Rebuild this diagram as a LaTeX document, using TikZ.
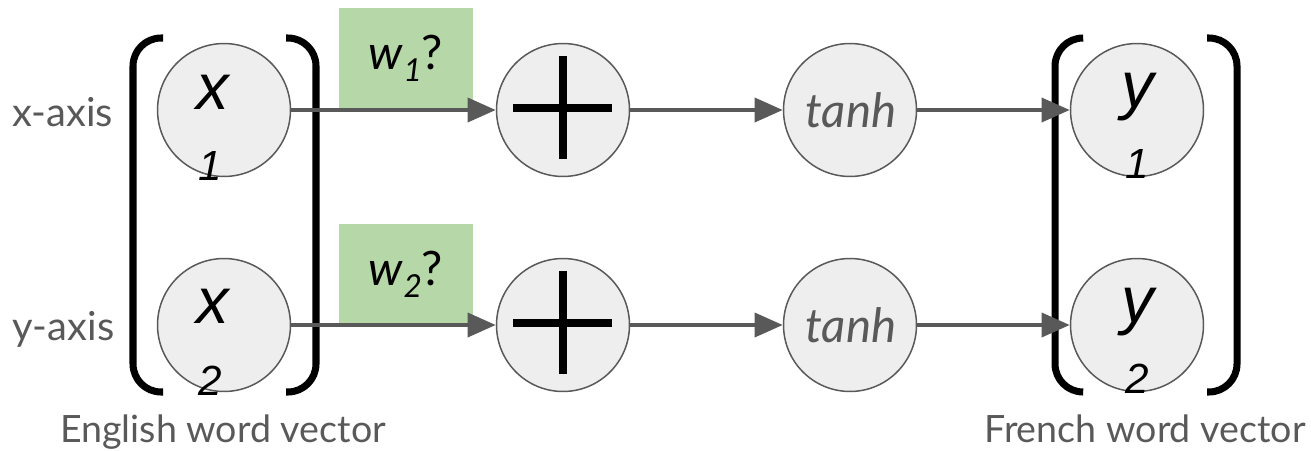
\documentclass[tikz,border=0pt]{standalone}
\usepackage{fontspec}
\setmainfont{Lato}
\newfontfamily\vecfont{Liberation Sans}
\usetikzlibrary{arrows.meta}

\definecolor{linegray}{HTML}{595959}
\definecolor{cellgray}{HTML}{EEEEEE}
\definecolor{weightgreen}{HTML}{B6D7A8}

\tikzset{
  cell/.style={circle, draw=linegray, line width=0.85pt, fill=cellgray, minimum size=2.66cm, inner sep=0pt},
  flow/.style={draw=linegray, line width=2.27pt, -{Triangle[length=16pt,width=13.6pt]}},
  bracket/.style={line width=4pt, rounded corners=16pt},
  plusbar/.style={line width=4.5pt},
  weight/.style={fill=weightgreen, minimum width=2.68cm, minimum height=2.02cm, inner sep=0pt, font=\fontsize{27}{30}\selectfont},
  vec/.style={font=\vecfont\itshape\fontsize{37}{37}\selectfont, inner sep=0pt, anchor=base},
  idx/.style={font=\vecfont\itshape\fontsize{24}{24}\selectfont, inner sep=0pt, anchor=base},
  act/.style={text=linegray, font=\itshape\fontsize{27}{30}\selectfont, inner sep=0pt, anchor=base},
  axislabel/.style={text=linegray, font=\fontsize{22.7}{24}\selectfont, inner sep=0pt, anchor=base west},
  caption/.style={text=linegray, font=\fontsize{21.4}{23}\selectfont, inner sep=0pt, anchor=base}
}

\begin{document}
\begin{tikzpicture}[x=0.02cm, y=-0.02cm]
    \useasboundingbox (0,0) rectangle (1311,450);

    % brackets round the two vectors
    \draw[bracket] (163,38) -- (133,38) -- (133,392) -- (163,392);
    \draw[bracket] (286,38) -- (316,38) -- (316,392) -- (286,392);
    \draw[bracket] (1083,38) -- (1055,38) -- (1055,392) -- (1083,392);
    \draw[bracket] (1207,38) -- (1237,38) -- (1237,392) -- (1207,392);

    % unknown weights
    \node[weight] (w1) at (406,58.5) {\textit{w}\raisebox{-0.25em}{\fontsize{18}{18}\selectfont\textit{1}}?};
    \node[weight] (w2) at (406,274.5) {\textit{w}\raisebox{-0.25em}{\fontsize{18}{18}\selectfont\textit{2}}?};

    % cells
    \node[cell] (x1) at (224,110) {};
    \node[cell] (x2) at (224,325) {};
    \node[cell] (p1) at (563,110) {};
    \node[cell] (p2) at (563,325) {};
    \node[cell] (t1) at (850,110) {};
    \node[cell] (t2) at (850,325) {};
    \node[cell] (y1) at (1137,110) {};
    \node[cell] (y2) at (1137,325) {};

    % plus signs
    \draw[plusbar] (p1.center) ++(0,-54) -- ++(0,103);
    \draw[plusbar] (p1.center) ++(-50,-2) -- ++(99,0);
    \draw[plusbar] (p2.center) ++(0,-54) -- ++(0,103);
    \draw[plusbar] (p2.center) ++(-50,-2) -- ++(99,0);

    % entries
    \node[vec] (x1l) at (213,109) {x};
    \node[idx] (x1i) at (210,180) {1};
    \node[vec] (x2l) at (213,323) {x};
    \node[idx] (x2i) at (210,395) {2};
    \node[vec] (y1l) at (1138,107) {y};
    \node[idx] (y1i) at (1137,178) {1};
    \node[vec] (y2l) at (1138,322) {y};
    \node[idx] (y2i) at (1137,393) {2};

    \node[act] (t1l) at (851,127) {tanh};
    \node[act] (t2l) at (851,342) {tanh};

    % connections
    \draw[flow] (x1) -- (p1);
    \draw[flow] (x2) -- (p2);
    \draw[flow] (p1) -- (t1);
    \draw[flow] (p2) -- (t2);
    \draw[flow] (t1) -- (y1);
    \draw[flow] (t2) -- (y2);

    \node[axislabel] (xaxis) at (12,126) {x-axis};
    \node[axislabel] (yaxis) at (12,340) {y-axis};
    \node[caption] (english) at (223,442) {English word vector};
    \node[caption] (french) at (1145,442) {French word vector};
\end{tikzpicture}
\end{document}
